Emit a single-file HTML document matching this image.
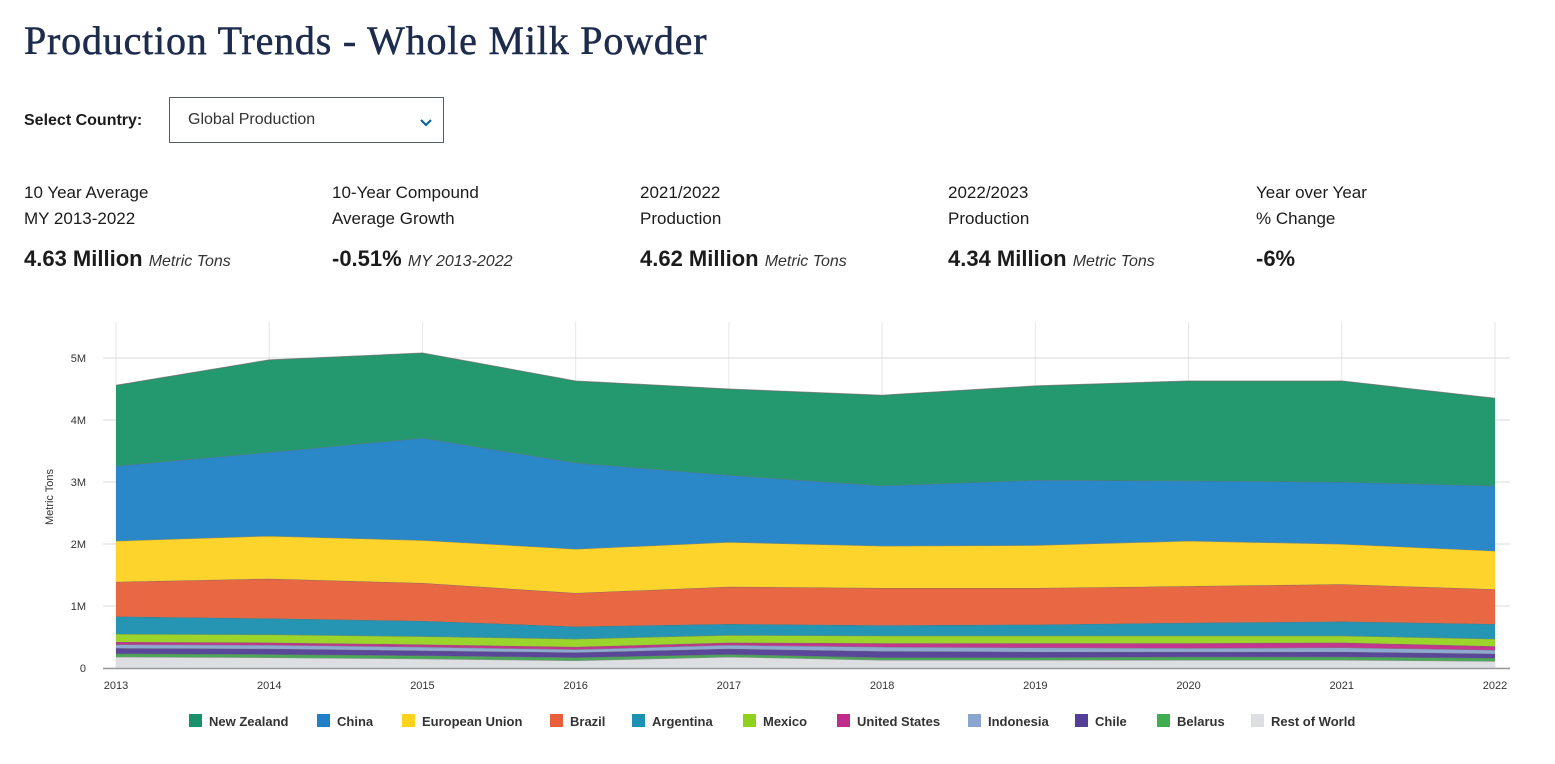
<!DOCTYPE html>
<html><head><meta charset="utf-8">
<style>
body{margin:0;width:1555px;height:764px;background:#fff;font-family:"Liberation Sans",sans-serif;color:#1b1b1b;position:relative;overflow:hidden}
.abs{position:absolute;white-space:nowrap}
h1{position:absolute;left:24px;top:17px;margin:0;font-family:"Liberation Serif",serif;font-weight:normal;font-size:40px;color:#1d2b4c;letter-spacing:0.8px;-webkit-text-stroke:0.5px #1d2b4c}
.lbl{font-size:17px;line-height:26px;color:#1b1b1b}
.val{font-size:22px;font-weight:bold}
.val i{font-weight:normal;font-size:16px;color:#333}
</style></head><body>
<h1>Production Trends - Whole Milk Powder</h1>
<div class="abs" style="left:24px;top:112px;font-size:16px;font-weight:bold">Select Country:</div>
<div class="abs" style="left:169px;top:97px;width:275px;height:46px;border:1px solid #565c65;box-sizing:border-box">
 <span style="position:absolute;left:18px;top:13px;font-size:16px;color:#333">Global Production</span>
 <svg style="position:absolute;left:249px;top:20px" width="14" height="10"><path d="M2 2 L7 7 L12 2" fill="none" stroke="#005ea2" stroke-width="2"/></svg>
</div>
<div class="abs" style="left:24px;top:180px"><div class="lbl">10 Year Average<br>MY 2013-2022</div><div class="val" style="margin-top:14px">4.63 Million <i>Metric Tons</i></div></div>
<div class="abs" style="left:332px;top:180px"><div class="lbl">10-Year Compound<br>Average Growth</div><div class="val" style="margin-top:14px">-0.51% <i>MY 2013-2022</i></div></div>
<div class="abs" style="left:640px;top:180px"><div class="lbl">2021/2022<br>Production</div><div class="val" style="margin-top:14px">4.62 Million <i>Metric Tons</i></div></div>
<div class="abs" style="left:948px;top:180px"><div class="lbl">2022/2023<br>Production</div><div class="val" style="margin-top:14px">4.34 Million <i>Metric Tons</i></div></div>
<div class="abs" style="left:1256px;top:180px"><div class="lbl">Year over Year<br>% Change</div><div class="val" style="margin-top:14px">-6%</div></div>

<svg id="chart" width="1555" height="764" style="position:absolute;left:0;top:0"></svg>
<script>
const years=[2013,2014,2015,2016,2017,2018,2019,2020,2021,2022];
const seriesNames=["Rest of World","Belarus","Chile","Indonesia","United States","Mexico","Argentina","Brazil","European Union","China","New Zealand"];
const rowVals=[0.18,0.17,0.15,0.12,0.18,0.13,0.13,0.13,0.13,0.11];
const belarusVals=[0.05,0.05,0.05,0.05,0.04,0.04,0.04,0.05,0.05,0.05];
const chileVals=[0.09,0.09,0.08,0.08,0.09,0.10,0.09,0.08,0.08,0.07];
const indonesiaVals=[0.06,0.06,0.06,0.05,0.06,0.07,0.07,0.06,0.07,0.06];
const usVals=[0.04,0.04,0.04,0.04,0.04,0.06,0.07,0.08,0.08,0.06];
const mexicoVals=[0.13,0.13,0.13,0.13,0.12,0.12,0.12,0.12,0.11,0.12];
const argentinaVals=[0.28,0.26,0.25,0.20,0.18,0.17,0.18,0.21,0.23,0.24];
const brazilVals=[0.56,0.64,0.61,0.54,0.60,0.60,0.59,0.59,0.60,0.56];
const euVals=[0.66,0.69,0.69,0.71,0.72,0.68,0.69,0.73,0.65,0.62];
const chinaVals=[1.21,1.35,1.65,1.39,1.08,0.97,1.05,0.97,1.00,1.05];
const nzVals=[1.30,1.49,1.37,1.32,1.39,1.46,1.52,1.61,1.63,1.41];
const yTicks=[0,1,2,3,4,5];
const yTickLabels=["0","1M","2M","3M","4M","5M"];

const seriesVals=[rowVals,belarusVals,chileVals,indonesiaVals,usVals,mexicoVals,argentinaVals,brazilVals,euVals,chinaVals,nzVals];
const colors=["#dcdee1","#4aa956","#5a4799","#8eaad1","#c2368e","#9bd42a","#2595b3","#e86843","#fcd42c","#2a88c9","#24996f"];
const legendColors=["#dcdee1","#3fae4f","#533f96","#8aa6d0","#c02c8b","#8fd11b","#1c92b3","#e65f3a","#fdd21c","#1f7fc7","#18926a"];
const legendOrder=[10,9,8,7,6,5,4,3,2,1,0];
const NS="http://www.w3.org/2000/svg";
const svg=document.getElementById('chart');
const x0=116,x1=1495,yBase=668,pxPerM=62;
const X=i=>x0+(x1-x0)*i/(years.length-1);
const Y=v=>yBase-v*pxPerM;
function mk(tag,attrs){const e=document.createElementNS(NS,tag);for(const k in attrs)e.setAttribute(k,attrs[k]);svg.appendChild(e);return e;}
years.forEach((yr,i)=>{
 const l=mk('line',{x1:X(i),x2:X(i),y1:322,y2:yBase,stroke:'#e6e6e6','stroke-width':1});
 
 
});
yTicks.forEach((t,i)=>{
 const l=mk('line',{x1:103,x2:1510,y1:Y(t),y2:Y(t),stroke:'#dadada','stroke-width':1});
 
 
 const tx=mk('text',{x:86,y:Y(t)+4,'text-anchor':'end','font-size':11,fill:'#333','font-family':'Liberation Sans, sans-serif'});
 tx.textContent=yTickLabels[i];
 
 
});
let cum=years.map(()=>0);
seriesVals.forEach((vals,s)=>{
 const low=cum.slice();const high=cum.map((c,i)=>c+vals[i]);
 let d='M'+years.map((_,i)=>X(i)+','+Y(high[i])).join(' L');
 for(let i=years.length-1;i>=0;i--)d+=' L'+X(i)+','+Y(low[i]);
 d+='Z';
 const p=mk('path',{d:d,fill:colors[s],stroke:'none'});
 
 
 const ln=mk('path',{d:'M'+years.map((_,i)=>X(i)+','+Y(high[i])).join(' L'),fill:'none',stroke:'#666','stroke-width':1,'stroke-opacity':0.7});
 
 
 cum=high;
});
const ax=mk('line',{x1:103,x2:1510,y1:yBase+0.5,y2:yBase+0.5,stroke:'#999','stroke-width':1.5});


years.forEach((yr,i)=>{
 const t=mk('text',{x:X(i),y:689,'text-anchor':'middle','font-size':11,fill:'#333','font-family':'Liberation Sans, sans-serif'});
 t.textContent=yr;
 
 
});
const yt=mk('text',{x:0,y:0,transform:'translate(53,497) rotate(-90)','text-anchor':'middle','font-size':11,fill:'#333','font-family':'Liberation Sans, sans-serif'});
yt.textContent='Metric Tons';


const legendX=[189,317,402,550,632,743,837,968,1075,1157,1251];
legendOrder.forEach((s,k)=>{
 const g=document.createElementNS(NS,'g');svg.appendChild(g);
 
 
 const r=document.createElementNS(NS,'rect');
 r.setAttribute('x',legendX[k]);r.setAttribute('y',714);r.setAttribute('width',13);r.setAttribute('height',13);r.setAttribute('fill',legendColors[s]);
 g.appendChild(r);
 const t=document.createElementNS(NS,'text');
 t.setAttribute('x',legendX[k]+20);t.setAttribute('y',726);t.setAttribute('font-size',13);t.setAttribute('font-weight','bold');t.setAttribute('fill','#333');t.setAttribute('font-family','Liberation Sans, sans-serif');
 t.textContent=seriesNames[s];
 g.appendChild(t);
});
</script>
</body></html>
